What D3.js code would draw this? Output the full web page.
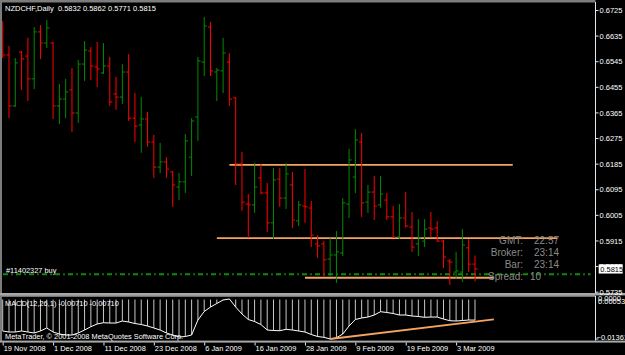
<!DOCTYPE html>
<html>
<head>
<meta charset="utf-8">
<script src="https://cdn.jsdelivr.net/npm/d3@7"></script>
<style>
  html, body { margin: 0; padding: 0; background: #000; }
  svg { display: block; font-family: "Liberation Sans", Arial, sans-serif; }
</style>
</head>
<body>
<svg id="chart" width="625" height="355"></svg>
<script>
// NZDCHF daily bars, one per trading day from 19 Nov 2008
const opens = [
  0.6672, 0.6567, 0.6388, 0.6577, 0.6563, 0.6483, 0.6648, 0.6609, 0.6609, 0.6388,
  0.6412, 0.6444, 0.6363, 0.6535, 0.6581, 0.6525, 0.6504, 0.6528, 0.6430, 0.6419,
  0.6507, 0.6345, 0.6321, 0.6342, 0.6261, 0.6173, 0.6191, 0.6156, 0.6103, 0.6121,
  0.6208, 0.6349, 0.6542, 0.6665, 0.6507, 0.6511, 0.6542, 0.6416, 0.6184, 0.6043,
  0.6040, 0.6135, 0.6082, 0.5977, 0.6131, 0.6064, 0.6110, 0.5984, 0.6036, 0.6029,
  0.5903, 0.5903, 0.5850, 0.5864, 0.5871, 0.6043, 0.6138, 0.6261, 0.6050, 0.6085,
  0.6040, 0.6057, 0.5998, 0.5927, 0.5994, 0.5962, 0.5903, 0.5913, 0.5959, 0.5959,
  0.5913, 0.5843, 0.5804, 0.5804, 0.5889, 0.5832
]
const highs = [
  0.6686, 0.6599, 0.6556, 0.6581, 0.6627, 0.6665, 0.6672, 0.6690, 0.6612, 0.6465,
  0.6483, 0.6521, 0.6549, 0.6616, 0.6595, 0.6613, 0.6609, 0.6560, 0.6490, 0.6535,
  0.6570, 0.6433, 0.6419, 0.6367, 0.6286, 0.6258, 0.6208, 0.6159, 0.6152, 0.6289,
  0.6345, 0.6560, 0.6700, 0.6683, 0.6521, 0.6627, 0.6574, 0.6420, 0.6226, 0.6078,
  0.6187, 0.6184, 0.6117, 0.6170, 0.6170, 0.6187, 0.6156, 0.6054, 0.6166, 0.6054,
  0.5934, 0.5913, 0.5924, 0.5948, 0.6064, 0.6237, 0.6307, 0.6293, 0.6110, 0.6142,
  0.6142, 0.6082, 0.6036, 0.6043, 0.6085, 0.6015, 0.5990, 0.5990, 0.6015, 0.5983,
  0.5917, 0.5850, 0.5875, 0.5955, 0.5920, 0.5862
]
const lows = [
  0.6556, 0.6345, 0.6384, 0.6444, 0.6405, 0.6447, 0.6553, 0.6591, 0.6342, 0.6324,
  0.6345, 0.6296, 0.6328, 0.6476, 0.6479, 0.6454, 0.6500, 0.6388, 0.6374, 0.6395,
  0.6335, 0.6261, 0.6223, 0.6244, 0.6135, 0.6152, 0.6135, 0.6033, 0.6057, 0.6082,
  0.6142, 0.6265, 0.6493, 0.6493, 0.6405, 0.6433, 0.6388, 0.6110, 0.6019, 0.5924,
  0.6012, 0.6078, 0.5945, 0.5920, 0.6033, 0.6026, 0.5959, 0.5966, 0.5977, 0.5892,
  0.5854, 0.5790, 0.5790, 0.5766, 0.5860, 0.5994, 0.6082, 0.5998, 0.6012, 0.5987,
  0.6030, 0.5987, 0.5924, 0.5920, 0.5960, 0.5875, 0.5860, 0.5892, 0.5927, 0.5910,
  0.5818, 0.5759, 0.5783, 0.5769, 0.5804, 0.5771
]
const closes = [
  0.6567, 0.6388, 0.6539, 0.6553, 0.6483, 0.6648, 0.6609, 0.6662, 0.6388, 0.6412,
  0.6437, 0.6363, 0.6535, 0.6584, 0.6528, 0.6518, 0.6528, 0.6402, 0.6419, 0.6507,
  0.6345, 0.6317, 0.6342, 0.6261, 0.6173, 0.6191, 0.6166, 0.6110, 0.6121, 0.6265,
  0.6335, 0.6546, 0.6669, 0.6511, 0.6514, 0.6574, 0.6412, 0.6184, 0.6050, 0.6040,
  0.6103, 0.6082, 0.5977, 0.6128, 0.6064, 0.6149, 0.5987, 0.6040, 0.6033, 0.5934,
  0.5896, 0.5847, 0.5864, 0.5875, 0.6047, 0.6198, 0.6268, 0.6047, 0.6085, 0.6036,
  0.6078, 0.5998, 0.5927, 0.5994, 0.5966, 0.5892, 0.5924, 0.5955, 0.5955, 0.5913,
  0.5857, 0.5839, 0.5808, 0.5899, 0.5832, 0.5815
]

// MACD(12,26,1) main line (signal = main with period 1)
const macd = [
  -0.01085, -0.01120, -0.01120, -0.01085, -0.01120, -0.01154, -0.01085, -0.00982, -0.01120, -0.01189,
  -0.01224, -0.01224, -0.01154, -0.01051, -0.00937, -0.00844, -0.00799, -0.00810, -0.00810, -0.00741,
  -0.00775, -0.00827, -0.00861, -0.00913, -0.00982, -0.01051, -0.01154, -0.01224, -0.01293, -0.01275,
  -0.01224, -0.00706, -0.00413, -0.00258, -0.00137, -0.00016, 0.00019, -0.00258, -0.00499, -0.00689,
  -0.00758, -0.00861, -0.01051, -0.01068, -0.01075, -0.01027, -0.01051, -0.01085, -0.01120, -0.01206,
  -0.01275, -0.01303, -0.01361, -0.01317, -0.01189, -0.00913, -0.00689, -0.00637, -0.00603, -0.00534,
  -0.00420, -0.00447, -0.00482, -0.00534, -0.00534, -0.00568, -0.00585, -0.00613, -0.00603, -0.00603,
  -0.00672, -0.00730, -0.00741, -0.00723, -0.00706, -0.00710
]

const dateLabels = ["19 Nov 2008", "1 Dec 2008", "11 Dec 2008", "23 Dec 2008", "6 Jan 2009",
  "16 Jan 2009", "28 Jan 2009", "9 Feb 2009", "19 Feb 2009", "3 Mar 2009"]
const priceTicks = ["0.6725", "0.6635", "0.6545", "0.6455", "0.6365", "0.6275", "0.6185",
  "0.6095", "0.6005", "0.5915", "0.5825", "0.5735"]

// drawn objects: trend lines (bar index from/to, price), order line, macd trend line
const trendLines = [
  {from: 36, to: 81, price: 0.6181},
  {from: 34, to: 88, price: 0.5923},
  {from: 48, to: 78, price: 0.5784},
]
const orderPrice = 0.5796
const macdTrend = [{i: 52, v: -0.01361}, {i: 78, v: -0.00682}]
const infoRows = [["GMT:", "22:57"], ["Broker:", "23:14"], ["Bar:", "23:14"], ["Spread:", "10"]]

const W = 625, H = 355
const axisX = 595.5
const upColor = "#008c00", downColor = "#ff0000"
const orange = "#f4a460"

const svg = d3.select("#chart")
svg.append("rect").attr("width", W).attr("height", H).attr("fill", "#000")

const x = d3.scaleLinear().domain([0, 75]).range([2.7, 475])
const y = d3.scaleLinear().domain([0.5735, 0.6725]).range([291.7, 10])
const ym = d3.scaleLinear().domain([-0.01361, 0.00053]).range([339, 298])

const defs = svg.append("defs")
defs.append("clipPath").attr("id", "mainClip")
  .append("rect").attr("x", 0).attr("y", 2.5).attr("width", axisX).attr("height", 290.5)
defs.append("clipPath").attr("id", "macdClip")
  .append("rect").attr("x", 0).attr("y", 296.5).attr("width", axisX).attr("height", 44)

// ---- main panel ----
const main = svg.append("g").attr("clip-path", "url(#mainClip)")

main.selectAll("line.trend").data(trendLines).enter().append("line")
  .attr("class", "trend")
  .attr("x1", (d) => x(d.from)).attr("x2", (d) => x(d.to))
  .attr("y1", (d) => y(d.price)).attr("y2", (d) => y(d.price))
  .attr("stroke", orange).attr("stroke-width", 1.8)

main.append("line")
  .attr("x1", 3).attr("x2", axisX - 5)
  .attr("y1", y(orderPrice)).attr("y2", y(orderPrice))
  .attr("stroke", "#0c8c0c").attr("stroke-width", 2)
  .attr("stroke-dasharray", "5,3.2,1.6,3.2")

const bars = main.selectAll("g.bar").data(opens.map((o, i) => i)).enter().append("g")
  .attr("class", "bar")
  .attr("stroke", (i) => (closes[i] >= opens[i] ? upColor : downColor))
  .attr("stroke-width", 1)
bars.append("line")
  .attr("x1", (i) => x(i)).attr("x2", (i) => x(i))
  .attr("y1", (i) => y(highs[i])).attr("y2", (i) => y(lows[i]))
bars.append("line")
  .attr("x1", (i) => x(i) - 2.6).attr("x2", (i) => x(i))
  .attr("y1", (i) => y(opens[i])).attr("y2", (i) => y(opens[i]))
bars.append("line")
  .attr("x1", (i) => x(i)).attr("x2", (i) => x(i) + 2.6)
  .attr("y1", (i) => y(closes[i])).attr("y2", (i) => y(closes[i]))

// texts in main panel
svg.append("text").attr("x", 5).attr("y", 11).attr("font-size", 7.5).attr("fill", "#fff")
  .attr("xml:space", "preserve")
  .text(`NZDCHF,Daily  ${opens[75].toFixed(4)} ${highs[75].toFixed(4)} ${lows[75].toFixed(4)} ${closes[75].toFixed(4)}`)

svg.append("text").attr("x", 6).attr("y", 273).attr("font-size", 7.4).attr("fill", "#fff")
  .text("#11402327 buy")

const info = svg.append("g").attr("font-size", 10).attr("fill", "#8a8a8a")
infoRows.forEach((r, k) => {
  const by = 243.8 + k * 11.9
  info.append("text").attr("x", 523).attr("y", by).attr("text-anchor", "end").text(r[0])
  info.append("text").attr("x", r[0] === "Spread:" ? 530 : 534).attr("y", by).text(r[1])
})

// ---- MACD panel ----
const sub = svg.append("g").attr("clip-path", "url(#macdClip)")
sub.selectAll("line.hist").data(macd).enter().append("line")
  .attr("class", "hist")
  .attr("x1", (d, i) => x(i)).attr("x2", (d, i) => x(i))
  .attr("y1", ym(0)).attr("y2", (d) => ym(d))
  .attr("stroke", "#c8c8c8").attr("stroke-width", 1)

sub.append("path").datum(macd)
  .attr("fill", "none").attr("stroke", "#fff").attr("stroke-width", 1)
  .attr("d", d3.line().x((d, i) => x(i)).y((d) => ym(d)))

sub.append("line")
  .attr("x1", x(macdTrend[0].i)).attr("y1", ym(macdTrend[0].v))
  .attr("x2", x(macdTrend[1].i)).attr("y2", ym(macdTrend[1].v))
  .attr("stroke", orange).attr("stroke-width", 1.8)

svg.append("text").attr("x", 5).attr("y", 305.5).attr("font-size", 7.4).attr("fill", "#fff")
  .text(`MACD(12,26,1) ${macd[75].toFixed(5)} ${macd[75].toFixed(5)}`)
svg.append("text").attr("x", 5).attr("y", 338.7).attr("font-size", 7.4).attr("fill", "#fff")
  .text("MetaTrader, \u00a9 2001-2008 MetaQuotes Software Corp.")

// ---- frames ----
svg.append("rect").attr("x", 0).attr("y", 0).attr("width", axisX).attr("height", 2.5).attr("fill", "#7c7c7c")
svg.append("rect").attr("x", 0).attr("y", 0).attr("width", 2).attr("height", 342).attr("fill", "#7c7c7c")
svg.append("rect").attr("x", 0).attr("y", 293).attr("width", W).attr("height", 2.4).attr("fill", "#a8a8a8")
svg.append("line").attr("x1", 2).attr("x2", axisX).attr("y1", 296).attr("y2", 296).attr("stroke", "#e8e8e8")
svg.append("rect").attr("x", 0).attr("y", 340.6).attr("width", W).attr("height", 2).attr("fill", "#a8a8a8")
svg.append("line").attr("x1", axisX).attr("x2", axisX).attr("y1", 2).attr("y2", 293).attr("stroke", "#e8e8e8")
svg.append("line").attr("x1", axisX).attr("x2", axisX).attr("y1", 296).attr("y2", 340.6).attr("stroke", "#e8e8e8")

// ---- price axis ----
const yAxis = d3.axisRight(y)
  .tickValues(priceTicks.map(Number))
  .tickFormat(d3.format(".4f"))
  .tickSize(3).tickSizeOuter(0).tickPadding(1)
const yg = svg.append("g").attr("transform", `translate(${axisX},0)`).call(yAxis)
yg.select(".domain").remove()
yg.selectAll(".tick line").attr("stroke", "#e8e8e8")
yg.selectAll(".tick text").attr("fill", "#fff").attr("font-size", 7.5)
  .attr("font-family", "Liberation Sans, Arial, sans-serif").attr("dy", "0.36em")

// current price label
const cp = svg.append("g").attr("transform", `translate(598.7,${y(closes[75])})`)
cp.append("rect").attr("x", 0).attr("y", -4.6).attr("width", 24).attr("height", 9.2).attr("fill", "#fff")
cp.append("text").attr("x", 1.5).attr("y", 2.7).attr("font-size", 7.5).attr("fill", "#000")
  .text(closes[75].toFixed(4))

// macd scale labels
const ml = svg.append("g").attr("font-size", 7.5).attr("fill", "#fff")
ml.append("text").attr("x", 598).attr("y", 301).text("0.0000")
ml.append("text").attr("x", 598).attr("y", 304.3).text(d3.format(".5f")(0.00053))
ml.append("text").attr("x", 596.5).attr("y", 340).text(d3.format(".5f")(-0.01361))
svg.append("line").attr("x1", axisX).attr("x2", axisX + 3).attr("y1", ym(-0.01361)).attr("y2", ym(-0.01361))
  .attr("stroke", "#e8e8e8")

// ---- date axis ----
const xAxis = d3.axisBottom(x)
  .tickValues(dateLabels.map((d, k) => k * 8))
  .tickFormat((d, k) => dateLabels[k])
  .tickSize(3).tickSizeOuter(0)
const xg = svg.append("g").attr("transform", "translate(0,342.5)").call(xAxis)
xg.select(".domain").remove()
xg.selectAll(".tick line").attr("stroke", "#e8e8e8")
xg.selectAll(".tick text").attr("fill", "#fff").attr("font-size", 7.4)
  .attr("font-family", "Liberation Sans, Arial, sans-serif")
  .attr("text-anchor", "start").attr("x", 0.5).attr("y", 8.6).attr("dy", 0)
</script>
</body>
</html>
